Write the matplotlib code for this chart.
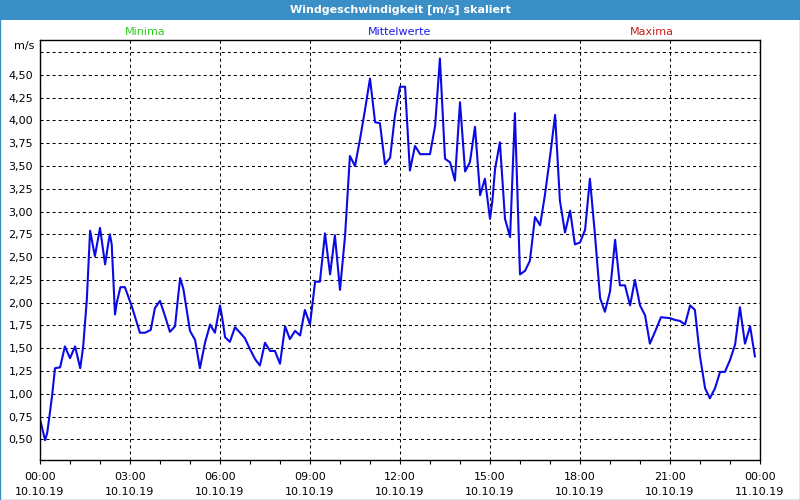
import pandas as pd
import numpy as np
import matplotlib
matplotlib.use('Agg')
import matplotlib.pyplot as plt
import matplotlib.dates as mdates
from matplotlib.patches import Rectangle

# Messzeitpunkte (Stunden ab 10.10.19 00:00) und Mittelwerte [m/s]
stunden = [0.0, 0.17, 0.24, 0.33, 0.41, 0.5, 0.67, 0.83, 1.0, 1.17, 1.34, 1.44, 1.56, 1.67, 1.83,
           2.0, 2.17, 2.28, 2.33, 2.39, 2.5, 2.56, 2.68, 2.83, 3.06, 3.33, 3.5, 3.69, 3.83,
           4.0, 4.17, 4.33, 4.5, 4.67, 4.78, 5.0, 5.17, 5.33, 5.5, 5.67, 5.83,
           6.0, 6.06, 6.17, 6.33, 6.5, 6.67, 6.83, 7.0, 7.17, 7.33, 7.5, 7.67, 7.83,
           8.0, 8.17, 8.33, 8.5, 8.67, 8.83, 9.0, 9.17, 9.33, 9.5, 9.67, 9.83,
           10.0, 10.17, 10.33, 10.5, 10.67, 10.83, 11.0, 11.17, 11.33, 11.5, 11.67, 11.83,
           12.0, 12.17, 12.33, 12.5, 12.67, 13.0, 13.17, 13.33, 13.5, 13.67, 13.83,
           14.0, 14.17, 14.33, 14.5, 14.67, 14.83, 15.0, 15.08, 15.17, 15.33, 15.5, 15.67, 15.83,
           16.0, 16.17, 16.33, 16.5, 16.67, 16.83, 17.0, 17.17, 17.33, 17.5, 17.67, 17.83,
           18.0, 18.17, 18.33, 18.5, 18.67, 18.83, 19.0, 19.17, 19.33, 19.5, 19.67, 19.83,
           20.0, 20.17, 20.33, 20.5, 20.7, 21.0, 21.17, 21.33, 21.5, 21.67, 21.83,
           22.0, 22.17, 22.33, 22.5, 22.67, 22.83, 23.0, 23.17, 23.33, 23.5, 23.67, 23.83]
mittelwerte = [0.72, 0.49, 0.57, 0.79, 1.00, 1.28, 1.29, 1.52, 1.39, 1.52, 1.28, 1.52, 2.03, 2.79, 2.51,
               2.82, 2.42, 2.66, 2.75, 2.64, 1.87, 2.00, 2.17, 2.17, 1.96, 1.67, 1.67, 1.70, 1.94,
               2.02, 1.85, 1.68, 1.74, 2.27, 2.15, 1.69, 1.59, 1.28, 1.56, 1.76, 1.67,
               1.97, 1.86, 1.62, 1.57, 1.73, 1.67, 1.61, 1.49, 1.38, 1.31, 1.56, 1.47, 1.47,
               1.33, 1.74, 1.60, 1.69, 1.64, 1.92, 1.76, 2.23, 2.23, 2.76, 2.31, 2.74,
               2.14, 2.74, 3.61, 3.50, 3.80, 4.11, 4.46, 3.98, 3.97, 3.52, 3.59, 4.05,
               4.37, 4.37, 3.45, 3.72, 3.63, 3.63, 3.94, 4.68, 3.58, 3.54, 3.34,
               4.20, 3.44, 3.54, 3.93, 3.18, 3.36, 2.92, 3.12, 3.47, 3.76, 2.92, 2.72, 4.08,
               2.31, 2.35, 2.46, 2.94, 2.85, 3.18, 3.60, 4.06, 3.12, 2.77, 3.01, 2.64,
               2.66, 2.80, 3.36, 2.74, 2.05, 1.90, 2.12, 2.69, 2.19, 2.19, 1.97, 2.25,
               1.97, 1.86, 1.55, 1.68, 1.84, 1.83, 1.81, 1.80, 1.76, 1.97, 1.92,
               1.41, 1.06, 0.95, 1.06, 1.24, 1.24, 1.37, 1.54, 1.95, 1.55, 1.74, 1.41]

y_ticks = [0.50, 0.75, 1.00, 1.25, 1.50, 1.75, 2.00, 2.25, 2.50, 2.75, 3.00, 3.25,
           3.50, 3.75, 4.00, 4.25, 4.50, 4.75]
y_labels = ['0,50', '0,75', '1,00', '1,25', '1,50', '1,75', '2,00', '2,25', '2,50', '2,75',
            '3,00', '3,25', '3,50', '3,75', '4,00', '4,25', '4,50', '']

start = pd.Timestamp('2019-10-10 00:00')
zeit = start + pd.to_timedelta(stunden, unit='h')

blau = '#3b8fc7'

fig = plt.figure(figsize=(8, 5), dpi=100)
fig.patch.set_facecolor('white')
ax = fig.add_axes([0.05, 0.08, 0.90, 0.84])

ax.plot(zeit, mittelwerte, color='#0a0ae6', lw=1.5)

ax.set_xlim(start, start + pd.Timedelta(hours=24))
ax.set_ylim(0.273, 4.883)
ax.xaxis.set_major_locator(mdates.HourLocator(interval=3))
ax.xaxis.set_minor_locator(mdates.HourLocator(interval=1))
ax.xaxis.set_major_formatter(mdates.DateFormatter('%H:%M\n%d.%m.%y'))
ax.set_yticks(y_ticks)
ax.set_yticklabels(y_labels)

ax.grid(True, which='major', color='black', linestyle=(0, (2.9, 2.9)), linewidth=0.75)
ax.tick_params(axis='x', which='both', direction='out', length=3, width=0.8, labelsize=8, pad=6)
ax.tick_params(axis='y', length=0, labelsize=8, pad=5)
for lab in ax.get_xticklabels():
    lab.set_linespacing(1.6)
for s in ax.spines.values():
    s.set_color('black')
    s.set_linewidth(1.0)

ax.text(-0.008, 0.985, 'm/s', transform=ax.transAxes, ha='right', va='center', fontsize=8)

# Titelleiste
fig.add_artist(Rectangle((0, 1 - 20 / 500), 1, 20 / 500, transform=fig.transFigure,
                         facecolor=blau, edgecolor='none'))
fig.add_artist(Rectangle((0.0006, 0.001), 0.9988, 0.998, transform=fig.transFigure,
                         facecolor='none', edgecolor=blau, lw=1))
fig.text(0.5, 1 - 10 / 500, 'Windgeschwindigkeit [m/s] skaliert', color='white',
         fontsize=8, fontweight='bold', ha='center', va='center')

fig.text(145 / 800, 1 - 32 / 500, 'Minima', color='#2ecc1e', fontsize=8, ha='center', va='center')
fig.text(400 / 800, 1 - 32 / 500, 'Mittelwerte', color='#1a1ae6', fontsize=8, ha='center', va='center')
fig.text(652 / 800, 1 - 32 / 500, 'Maxima', color='#c81e1e', fontsize=8, ha='center', va='center')

fig.savefig('out.png', dpi=100)
